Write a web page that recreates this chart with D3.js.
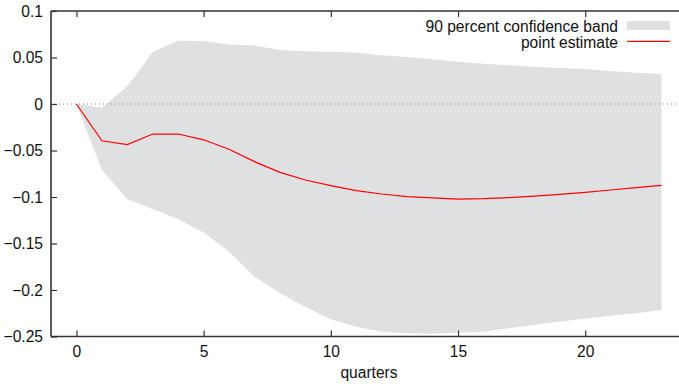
<!DOCTYPE html>
<html><head><meta charset="utf-8">
<script src="https://cdn.jsdelivr.net/npm/d3@7"></script>
<style>body{margin:0;background:#fff}svg{display:block}text{font-family:"Liberation Sans",Arial,Helvetica,sans-serif;fill:#111}</style>
</head><body><svg id="c" width="679" height="386"></svg>
<script>
const quarters = d3.range(0, 24);
const pointEstimate = [0, -0.0395, -0.0437, -0.0323, -0.0323, -0.0385, -0.0487, -0.062, -0.0735, -0.0817, -0.0878, -0.0932, -0.0968, -0.0997, -0.101, -0.1022, -0.1018, -0.1007, -0.099, -0.0971, -0.095, -0.0925, -0.090, -0.0875];
const bandUpper = [0, -0.004, 0.019, 0.056, 0.068, 0.0677, 0.064, 0.063, 0.058, 0.0566, 0.0563, 0.0552, 0.0523, 0.0505, 0.048, 0.0455, 0.0433, 0.0416, 0.040, 0.0387, 0.0376, 0.0355, 0.0337, 0.0323];
const bandLower = [0, -0.071, -0.1025, -0.113, -0.124, -0.1383, -0.1588, -0.1857, -0.2036, -0.218, -0.2315, -0.2394, -0.2448, -0.2466, -0.247, -0.2459, -0.2448, -0.241, -0.2376, -0.234, -0.231, -0.2276, -0.225, -0.2215];
const xTicks = [0, 5, 10, 15, 20];
const yTicks = [0.1, 0.05, 0, -0.05, -0.1, -0.15, -0.2, -0.25];
const legendLabels = ["90 percent confidence band", "point estimate"];
const xLabel = "quarters";

const FS = 15.6;
const svg = d3.select("#c");
const L = 51, T = 11, B = 336.5;
const x = d3.scaleLinear().domain([-1, 24]).range([L, L + 25 * 25.44]);
const y = d3.scaleLinear().domain([-0.25, 0.1]).range([B, T]);
const R = x(24);
const axisColor = "#333";

// band
const band = d3.area().x((d, i) => x(quarters[i])).y0((d, i) => y(bandLower[i])).y1((d, i) => y(bandUpper[i]));
svg.append("path").datum(quarters).attr("d", band).attr("fill", "#dfe0e2");

// zero line
svg.append("line").attr("x1", L).attr("x2", R).attr("y1", y(0)).attr("y2", y(0))
  .attr("stroke", "#888").attr("stroke-width", 1).attr("stroke-dasharray", "1,3");

// estimate
const line = d3.line().x((d, i) => x(quarters[i])).y(d => y(d));
svg.append("path").datum(pointEstimate).attr("d", line).attr("fill", "none").attr("stroke", "#ff0000").attr("stroke-width", 1.2);

// axes
const gL = svg.append("g").attr("transform", `translate(${L},0)`)
  .call(d3.axisLeft(y).tickValues(yTicks).tickFormat(d => d3.format("")(+d.toFixed(2))).tickSizeInner(-6).tickSizeOuter(0).tickPadding(8));
const gB = svg.append("g").attr("transform", `translate(0,${B})`)
  .call(d3.axisBottom(x).tickValues(xTicks).tickSizeInner(-6).tickSizeOuter(0).tickPadding(9));
const gT = svg.append("g").attr("transform", `translate(0,${T})`)
  .call(d3.axisTop(x).tickValues(xTicks).tickFormat("").tickSizeInner(-6).tickSizeOuter(0));
[gL, gB, gT].forEach(g => {
  g.selectAll(".domain").attr("stroke", axisColor).attr("stroke-width", 1.6);
  g.selectAll(".tick line").attr("stroke", axisColor).attr("stroke-width", 1.2);
  g.selectAll("text").attr("font-size", FS).attr("fill", "#111").attr("font-family", '"Liberation Sans",Arial,sans-serif');
});
gL.selectAll("text").attr("x", -8);
gL.select(".domain").attr("d", `M0,${T}V${B}`);
gB.select(".domain").attr("d", `M${L},0H${R}`);
gT.select(".domain").attr("d", `M${L},0H${R}`);

svg.append("text").attr("x", x(11.5)).attr("y", 378).attr("text-anchor", "middle").attr("font-size", FS).text(xLabel);

// legend
const lg = svg.append("g");
lg.append("text").attr("x", 618).attr("y", 32).attr("text-anchor", "end").attr("font-size", FS).text(legendLabels[0]);
lg.append("rect").attr("x", 627).attr("y", 21).attr("width", 43).attr("height", 9).attr("fill", "#dfe0e2");
lg.append("text").attr("x", 618).attr("y", 47.5).attr("text-anchor", "end").attr("font-size", FS).text(legendLabels[1]);
lg.append("line").attr("x1", 627).attr("x2", 670).attr("y1", 41.3).attr("y2", 41.3).attr("stroke", "#ff0000").attr("stroke-width", 1.2);
</script></body></html>
